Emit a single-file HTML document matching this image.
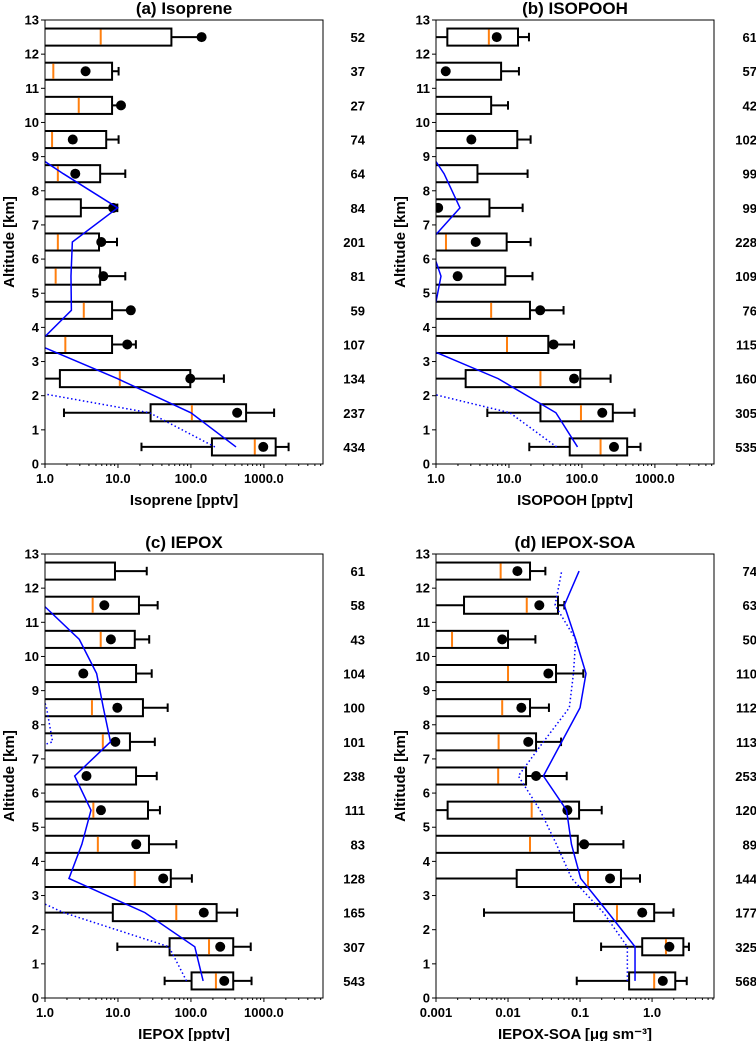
<!DOCTYPE html>
<html><head><meta charset="utf-8"><style>
html,body{margin:0;padding:0;background:#fff;}
svg{display:block;font-family:"Liberation Sans",sans-serif;}
</style></head><body>
<svg id="fig" width="756" height="1041" viewBox="0 0 756 1041" xmlns="http://www.w3.org/2000/svg"></svg>
<script>
// altitude bin centres (km), bottom -> top
const altitudes = [0.5,1.5,2.5,3.5,4.5,5.5,6.5,7.5,8.5,9.5,10.5,11.5,12.5];

// ---- (a) Isoprene ----
const isoN    = [434,237,134,107,59,81,201,84,64,74,27,37,52];
const isoWl   = [21,1.82,0.3,0.3,0.3,0.3,0.3,0.3,0.3,0.3,0.3,0.3,0.3];
const isoQ1   = [194,28,1.6,0.5,0.5,0.5,0.5,0.5,0.5,0.5,0.5,0.5,0.5];
const isoMed  = [750,103,10.6,1.9,3.4,1.4,1.5,0.5,1.5,1.25,2.9,1.3,5.8];
const isoQ3   = [1450,570,98,8.3,8.3,5.7,5.5,3.1,5.7,6.9,8.3,8.3,54];
const isoWh   = [2180,1380,283,17.6,15.9,12.6,9.7,9.8,12.6,10.2,10.5,10.2,147];
const isoMean = [980,430,98,13.4,15,6.3,5.9,8.6,2.6,2.4,11,3.6,140];
const isoSolid  = [415,100,9.8,0.78,2.3,2.27,2.37,9.9,1.78,0.35,0.3,0.3,0.3];
const isoDotted = [213,27,0.066,0.05,0.05,0.05,0.05,0.05,0.05,0.05,0.05,0.05,0.05];

// ---- (b) ISOPOOH ----
const ipN    = [535,305,160,115,76,109,228,99,99,102,42,57,61];
const ipWl   = [19,5.05,0.8,0.3,0.3,0.3,0.3,0.3,0.3,0.3,0.3,0.3,0.8];
const ipQ1   = [68,27,2.55,0.5,0.5,0.5,0.5,0.5,0.5,0.5,0.5,0.5,1.43];
const ipMed  = [180,97,27,9.4,5.7,0.5,1.37,0.5,0.5,0.5,0.5,0.5,5.3];
const ipQ3   = [417,265,95,34.6,19.4,8.9,9.3,5.4,3.7,13,5.7,7.8,13.3];
const ipWh   = [635,526,247,78,56,21,19.8,15.4,18,19.8,9.7,13.7,18.8];
const ipMean = [275,190,78,40.8,26.8,1.98,3.5,1.07,0.5,3.05,0.5,1.36,6.8];
const ipSolid  = [87,44,7.1,0.56,0.95,1.17,0.81,2.13,1.29,0.63,0.3,0.3,0.3];
const ipDotted = [45,10.3,0.12,0.05,0.05,0.05,0.05,0.05,0.05,0.05,0.05,0.05,0.05];

// ---- (c) IEPOX ----
const ieN    = [543,307,165,128,83,111,238,101,100,104,43,58,61];
const ieWl   = [43.6,9.8,0.4,0.3,0.3,0.3,0.3,0.3,0.3,0.3,0.3,0.3,0.3];
const ieQ1   = [102,51,8.5,0.5,0.5,0.5,0.5,0.5,0.5,0.5,0.5,0.5,0.5];
const ieMed  = [220,177,63,17,5.3,4.6,0.5,6.2,4.4,0.5,5.8,4.5,0.5];
const ieQ3   = [380,380,225,53,26.6,25.8,17.7,14.6,22,17.7,17,19.4,9.1];
const ieWh   = [677,660,430,103,63,37.6,34,32,48,29,26.8,35,24.8];
const ieMean = [286,252,150,41.7,17.8,5.85,3.7,9.2,9.8,3.35,8.0,6.5,0.5];
const ieSolid  = [147,113,23.4,2.13,3.2,4.27,2.55,7.9,6.3,5.1,2.95,0.95,0.3];
const ieDotted = [87,50,1.8,0.17,0.05,0.05,0.06,1.27,1.05,0.74,0.05,0.05,0.05];

// ---- (d) IEPOX-SOA ----
const soaN    = [568,325,177,144,89,120,253,113,112,110,50,63,74];
const soaWl   = [0.09,0.196,0.00464,1e-4,1e-4,1e-4,1e-4,1e-4,1e-4,1e-4,1e-4,1e-4,1e-4];
const soaQ1   = [0.48,0.73,0.0826,0.0132,1e-4,0.00145,1e-4,1e-4,1e-4,1e-4,1e-4,0.00245,1e-4];
const soaMed  = [1.07,1.56,0.326,0.129,0.0202,0.0213,0.0073,0.0074,0.0083,0.01,0.00167,0.0182,0.0079];
const soaQ3   = [2.1,2.72,1.07,0.37,0.093,0.097,0.0178,0.0245,0.0202,0.0464,0.01,0.0494,0.0202];
const soaWh   = [3.03,3.25,1.98,0.68,0.4,0.2,0.0653,0.0545,0.037,0.111,0.024,0.0605,0.033];
const soaMean = [1.41,1.74,0.73,0.261,0.114,0.0667,0.0245,0.0191,0.0153,0.0363,0.0083,0.0272,0.0135];
const soaSolid  = [0.58,0.58,0.246,0.102,0.076,0.065,0.031,0.0556,0.1,0.121,0.087,0.0605,0.097];
const soaDotted = [0.454,0.454,0.211,0.0766,0.047,0.0278,0.0139,0.031,0.071,0.081,0.087,0.045,0.0556];

const yTicks = [0,1,2,3,4,5,6,7,8,9,10,11,12,13];
const pptvTicks = [1,10,100,1000];
const pptvTickLabels = ["1.0","10.0","100.0","1000.0"];
const soaTicks = [0.001,0.01,0.1,1];
const soaTickLabels = ["0.001","0.01","0.1","1.0"];

const NS = "http://www.w3.org/2000/svg";
const svg = document.getElementById('fig');
function mk(tag, attrs, parent){
  const e = document.createElementNS(NS, tag);
  for (const k in attrs) e.setAttribute(k, attrs[k]);
  (parent||svg).appendChild(e);
  return e;
}

const panels = [
  {id:'isoprene', title:'(a) Isoprene', xlabel:'Isoprene [pptv]', ox:45, oy:20, lmin:0, lmax:3.81, ticks:pptvTicks, tl:pptvTickLabels, nx:365,
   wl:isoWl,q1:isoQ1,med:isoMed,q3:isoQ3,wh:isoWh,mean:isoMean,solid:isoSolid,dotted:isoDotted,n:isoN},
  {id:'isopooh', title:'(b) ISOPOOH', xlabel:'ISOPOOH [pptv]', ox:436, oy:20, lmin:0, lmax:3.81, ticks:pptvTicks, tl:pptvTickLabels, nx:757,
   wl:ipWl,q1:ipQ1,med:ipMed,q3:ipQ3,wh:ipWh,mean:ipMean,solid:ipSolid,dotted:ipDotted,n:ipN},
  {id:'iepox', title:'(c) IEPOX', xlabel:'IEPOX [pptv]', ox:45, oy:554, lmin:0, lmax:3.81, ticks:pptvTicks, tl:pptvTickLabels, nx:365,
   wl:ieWl,q1:ieQ1,med:ieMed,q3:ieQ3,wh:ieWh,mean:ieMean,solid:ieSolid,dotted:ieDotted,n:ieN},
  {id:'iepox-soa', title:'(d) IEPOX-SOA', xlabel:'IEPOX-SOA [μg sm⁻³]', ox:436, oy:554, lmin:-3, lmax:0.86, ticks:soaTicks, tl:soaTickLabels, nx:757,
   wl:soaWl,q1:soaQ1,med:soaMed,q3:soaQ3,wh:soaWh,mean:soaMean,solid:soaSolid,dotted:soaDotted,n:soaN}
];
const W = 278, H = 444, AMAX = 13;

panels.forEach((p, pi) => {
  const g = mk('g', {});
  
  
  const xs = v => p.ox + (Math.log10(v) - p.lmin) / (p.lmax - p.lmin) * W;
  const ys = a => p.oy + H - a / AMAX * H;
  const clipId = 'clip' + pi;
  const cp = mk('clipPath', {id: clipId}, g);
  mk('rect', {x:p.ox, y:p.oy, width:W, height:H}, cp);
  const plot = mk('g', {'clip-path':'url(#' + clipId + ')'}, g);
  const bh = 0.5 / AMAX * H;

  altitudes.forEach((a, i) => {
    const bg = mk('g', {}, plot);
    
    
    const yc = ys(a);
    const xw1 = xs(p.wl[i]), xq1 = xs(p.q1[i]), xq3 = xs(p.q3[i]), xw2 = xs(p.wh[i]);
    const st = {stroke:'#000','stroke-width':2, fill:'none'};
    mk('line', Object.assign({x1:xw1, x2:xq1, y1:yc, y2:yc}, st), bg);
    mk('line', Object.assign({x1:xq3, x2:xw2, y1:yc, y2:yc}, st), bg);
    mk('line', Object.assign({x1:xw1, x2:xw1, y1:yc-bh/4, y2:yc+bh/4}, st), bg);
    mk('line', Object.assign({x1:xw2, x2:xw2, y1:yc-bh/4, y2:yc+bh/4}, st), bg);
    mk('rect', Object.assign({x:xq1, y:yc-bh/2, width:Math.max(0,xq3-xq1), height:bh}, st), bg);
    const xm = xs(p.med[i]);
    mk('line', {x1:xm, x2:xm, y1:yc-bh/2+1, y2:yc+bh/2-1, stroke:'#ff7f0e','stroke-width':2}, bg);
    mk('circle', {cx:xs(p.mean[i]), cy:yc, r:5, fill:'#000'}, bg);
  });

  const sp = mk('polyline', {points: altitudes.map((a,i)=> xs(p.solid[i]) + ',' + ys(a)).join(' '), fill:'none', stroke:'#0000ff','stroke-width':1.5}, plot);
  
  
  const dp = mk('polyline', {points: altitudes.map((a,i)=> xs(p.dotted[i]) + ',' + ys(a)).join(' '), fill:'none', stroke:'#0000ff','stroke-width':1.5,'stroke-dasharray':'1.5 2.5'}, plot);
  
  

  // frame
  const fr = mk('rect', {x:p.ox, y:p.oy, width:W, height:H, fill:'none', stroke:'#000','stroke-width':1}, g);
  
  

  // y ticks
  yTicks.forEach(t => {
    const y = ys(t);
    mk('line', {x1:p.ox-4, x2:p.ox, y1:y, y2:y, stroke:'#000'}, g);
    const tx = mk('text', {x:p.ox-6, y:y+4.5, 'text-anchor':'end','font-size':13,'font-weight':'bold'}, g);
    tx.textContent = t;
    
    
  });
  // x ticks major + minor
  for (let d = Math.floor(p.lmin); d <= Math.ceil(p.lmax); d++) {
    for (let m = 1; m < 10; m++) {
      const v = m * Math.pow(10, d);
      const lv = Math.log10(v);
      if (lv < p.lmin - 1e-9 || lv > p.lmax + 1e-9) continue;
      const x = xs(v);
      mk('line', {x1:x, x2:x, y1:p.oy+H, y2:p.oy+H+(m===1?4:2), stroke:'#000'}, g);
    }
  }
  p.ticks.forEach((t, i) => {
    const tx = mk('text', {x:xs(t), y:p.oy+H+19, 'text-anchor':'middle','font-size':13,'font-weight':'bold'}, g);
    tx.textContent = p.tl[i];
    
    
  });
  // counts
  altitudes.forEach((a, i) => {
    const tx = mk('text', {x:p.nx, y:ys(a)+5, 'text-anchor':'end','font-size':13,'font-weight':'bold'}, g);
    tx.textContent = p.n[i];
    
    
  });
  const ti = mk('text', {x:p.ox+W/2, y:p.oy-6, 'text-anchor':'middle','font-size':17,'font-weight':'bold'}, g);
  ti.textContent = p.title;
  
  
  const xl = mk('text', {x:p.ox+W/2, y:p.oy+H+41, 'text-anchor':'middle','font-size':15,'font-weight':'bold'}, g);
  xl.textContent = p.xlabel;
  
  
  const yl = mk('text', {x:0, y:0, transform:'translate(' + (p.ox-31) + ',' + (p.oy+H/2) + ') rotate(-90)', 'text-anchor':'middle','font-size':15,'font-weight':'bold'}, g);
  yl.textContent = 'Altitude [km]';
  
  
});
</script>
</body></html>
